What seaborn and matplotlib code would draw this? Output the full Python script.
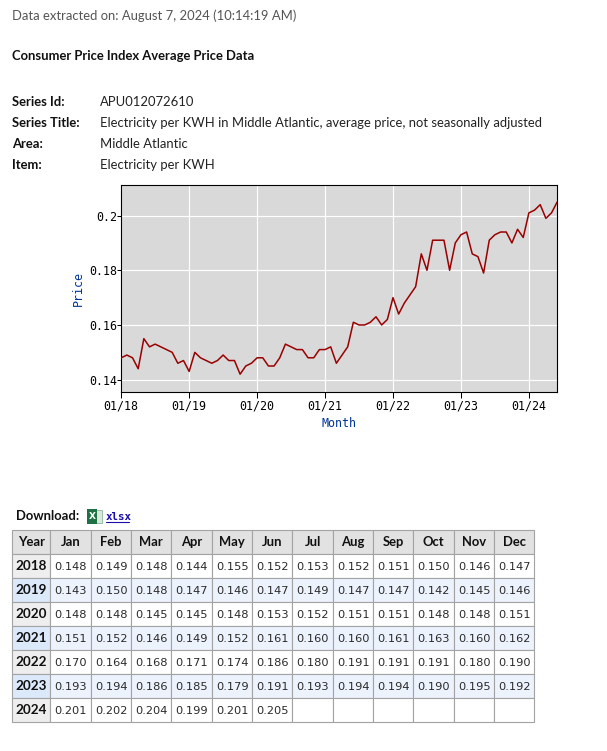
"""CPI average price page: line chart plus data table"""

import matplotlib
matplotlib.use("Agg")
import matplotlib.pyplot as plt
from matplotlib.patches import Rectangle
import numpy as np
import pandas as pd
import seaborn as sns

years = ["2018", "2019", "2020", "2021", "2022", "2023", "2024"]
months = ["Jan", "Feb", "Mar", "Apr", "May", "Jun", "Jul", "Aug", "Sep", "Oct", "Nov", "Dec"]

y2018 = [0.148, 0.149, 0.148, 0.144, 0.155, 0.152, 0.153, 0.152, 0.151, 0.150, 0.146, 0.147]
y2019 = [0.143, 0.150, 0.148, 0.147, 0.146, 0.147, 0.149, 0.147, 0.147, 0.142, 0.145, 0.146]
y2020 = [0.148, 0.148, 0.145, 0.145, 0.148, 0.153, 0.152, 0.151, 0.151, 0.148, 0.148, 0.151]
y2021 = [0.151, 0.152, 0.146, 0.149, 0.152, 0.161, 0.160, 0.160, 0.161, 0.163, 0.160, 0.162]
y2022 = [0.170, 0.164, 0.168, 0.171, 0.174, 0.186, 0.180, 0.191, 0.191, 0.191, 0.180, 0.190]
y2023 = [0.193, 0.194, 0.186, 0.185, 0.179, 0.191, 0.193, 0.194, 0.194, 0.190, 0.195, 0.192]
y2024 = [0.201, 0.202, 0.204, 0.199, 0.201, 0.205]
all_years = [y2018, y2019, y2020, y2021, y2022, y2023, y2024]

meta_labels = ["Series Id:", "Series Title:", "Area:", "Item:"]
meta_values = [
    "APU012072610",
    "Electricity per KWH in Middle Atlantic, average price, not seasonally adjusted",
    "Middle Atlantic",
    "Electricity per KWH",
]
price_ticks = [0.14, 0.16, 0.18, 0.2]
year_ticks = ["01/18", "01/19", "01/20", "01/21", "01/22", "01/23", "01/24"]

W, H = 607, 751
FS = 9.36
sns.set_theme(style="white")
plt.rcParams["font.family"] = ["Lato", "DejaVu Sans"]

fig = plt.figure(figsize=(W / 100, H / 100), dpi=100, facecolor="white")

# page layer, in pixels from the top left
page = fig.add_axes([0, 0, 1, 1])
page.set_xlim(0, W)
page.set_ylim(H, 0)
page.axis("off")

page.text(12, 20, "Data extracted on: August 7, 2024 (10:14:19 AM)", fontsize=FS,
          color="#555555", va="baseline")
page.text(12, 60, "Consumer Price Index Average Price Data", fontsize=FS,
          fontweight="bold", color="#111111", va="baseline")
for i, (lab, val) in enumerate(zip(meta_labels, meta_values)):
    y = 106 + i * 21
    page.text(12, y, lab, fontsize=FS, fontweight="bold", color="#111111", va="baseline")
    page.text(100, y, val, fontsize=FS, color="#222222", va="baseline")

# download line
page.text(16, 520, "Download:", fontsize=FS, fontweight="bold", color="#111111", va="baseline")
page.add_patch(Rectangle((92, 510), 10, 13, fc="#d8e8dc", ec="#8fb79b", lw=0.6))
page.add_patch(Rectangle((87, 509), 10, 15, fc="#1e7145", ec="none"))
page.text(92, 516.5, "X", fontsize=6.5, fontweight="bold", color="white",
          ha="center", va="center", family="DejaVu Sans")
page.text(106, 520, "xlsx", fontsize=7.8, fontweight="bold", color="#1a0dab",
          va="baseline", family="DejaVu Sans Mono")
page.plot([106, 129], [522, 522], color="#1a0dab", lw=0.8)

# table
col_edges = [12.2, 50.2, 91.2, 131.2, 171.2, 212.2, 252.2, 292.2, 333.2, 373.2, 413.2, 454.2, 494.2, 534.2]
row_edges = [530, 554, 578, 602, 626, 650, 674, 698, 722]
border = "#a3a3a3"

for c in range(len(col_edges) - 1):
    x0, x1 = col_edges[c], col_edges[c + 1]
    head = "Year" if c == 0 else months[c - 1]
    page.add_patch(Rectangle((x0, row_edges[0]), x1 - x0, row_edges[1] - row_edges[0],
                             fc="#e2e2e2", ec=border, lw=0.8))
    page.text((x0 + x1) / 2, row_edges[1] - 7.5, head, fontsize=FS,
              fontweight="bold", color="#111111", ha="center", va="baseline")

for r, yr in enumerate(years):
    y0, y1 = row_edges[r + 1], row_edges[r + 2]
    striped = r % 2 == 1
    for c in range(len(col_edges) - 1):
        x0, x1 = col_edges[c], col_edges[c + 1]
        if c == 0:
            fc = "#dce9fb" if striped else "#eeeeee"
        else:
            fc = "#edf3fd" if striped else "white"
        page.add_patch(Rectangle((x0, y0), x1 - x0, y1 - y0, fc=fc, ec=border, lw=0.8))
        if c == 0:
            page.text((x0 + x1) / 2, y1 - 7.5, yr, fontsize=FS + 0.4, fontweight="bold",
                      color="#111111", ha="center", va="baseline")
        elif c - 1 < len(all_years[r]):
            page.text((x0 + x1) / 2, y1 - 7.5, "%.3f" % all_years[r][c - 1], fontsize=8.2,
                      color="#2a2a2a", ha="center", va="baseline", family="DejaVu Sans")

# chart
left, right, top, bottom = 121.2, 557.2, 184.7, 391.7
ax = fig.add_axes([left / W, 1 - bottom / H, (right - left) / W, (bottom - top) / H])
ax.set_facecolor("#d9d9d9")

prices = np.concatenate(all_years)
data = pd.DataFrame({"Month": np.arange(len(prices)), "Price": prices})
sns.lineplot(data=data, x="Month", y="Price", color="#990000", linewidth=1.1, ax=ax, zorder=3)

ax.set_xlim(0, len(prices) - 1)
ax.set_ylim(0.1356, 0.2113)
ax.set_xticks(np.arange(len(year_ticks)) * 12)
ax.set_xticklabels(year_ticks)
ax.set_yticks(price_ticks)
ax.set_yticklabels(["0.14", "0.16", "0.18", "0.2"])
ax.grid(True, color="white", linewidth=0.85)
ax.set_axisbelow(True)
ax.tick_params(axis="x", length=4.6, width=0.75, color="black", labelcolor="black",
               labelsize=8.4, pad=1, bottom=True)
ax.tick_params(axis="y", length=3, width=0.75, color="black", labelcolor="black",
               labelsize=8.4, pad=0, left=True)
for t in ax.get_xticklabels() + ax.get_yticklabels():
    t.set_family("DejaVu Sans Mono")
for s in ax.spines.values():
    s.set_color("black")
    s.set_linewidth(0.8)
    s.set_visible(True)
ax.set_xlabel("Month", family="DejaVu Sans Mono", fontsize=8.4, color="#003399", labelpad=3)
ax.set_ylabel("Price", family="DejaVu Sans Mono", fontsize=8.4, color="#003399", labelpad=3)

fig.savefig("out.png", dpi=100)
